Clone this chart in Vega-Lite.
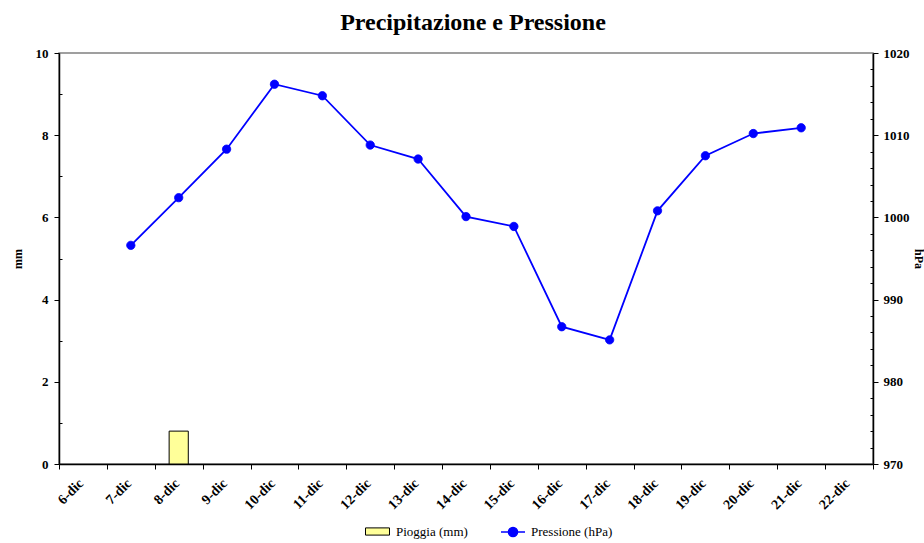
{
  "$schema": "https://vega.github.io/schema/vega-lite/v6.json",
  "width": 814,
  "height": 411,
  "autosize": {"type": "none"},
  "padding": {"left": 59, "top": 53, "right": 51, "bottom": 79},
  "background": "white",
  "title": {"text": "Precipitazione e Pressione", "font": "Liberation Serif", "fontSize": 24, "fontWeight": "bold", "color": "black", "anchor": "middle", "offset": 12, "dx": 7},
  "config": {
    "view": {"stroke": "#808080", "strokeWidth": 1.5},
    "axis": {"domainColor": "black", "domainWidth": 1.5, "tickColor": "black", "tickWidth": 1, "labelFont": "Liberation Serif", "labelFontWeight": "bold", "labelFontSize": 13, "labelColor": "black", "titleFont": "Liberation Serif", "titleFontWeight": "bold", "titleFontSize": 12, "titleColor": "black", "grid": false},
    "legend": {"labelFont": "Liberation Serif", "labelFontSize": 13, "labelColor": "black"}
  },
  "data": {"values": [
    {"day": "6-dic", "rain": null, "pressure": null},
    {"day": "7-dic", "rain": null, "pressure": 996.6},
    {"day": "8-dic", "rain": 0.8, "pressure": 1002.4},
    {"day": "9-dic", "rain": null, "pressure": 1008.3},
    {"day": "10-dic", "rain": null, "pressure": 1016.2},
    {"day": "11-dic", "rain": null, "pressure": 1014.8},
    {"day": "12-dic", "rain": null, "pressure": 1008.8},
    {"day": "13-dic", "rain": null, "pressure": 1007.1},
    {"day": "14-dic", "rain": null, "pressure": 1000.1},
    {"day": "15-dic", "rain": null, "pressure": 998.9},
    {"day": "16-dic", "rain": null, "pressure": 986.7},
    {"day": "17-dic", "rain": null, "pressure": 985.1},
    {"day": "18-dic", "rain": null, "pressure": 1000.8},
    {"day": "19-dic", "rain": null, "pressure": 1007.5},
    {"day": "20-dic", "rain": null, "pressure": 1010.2},
    {"day": "21-dic", "rain": null, "pressure": 1010.9},
    {"day": "22-dic", "rain": null, "pressure": null}
  ]},
  "encoding": {
    "x": {"field": "day", "type": "ordinal", "sort": null,
      "scale": {"domain": ["6-dic","7-dic","8-dic","9-dic","10-dic","11-dic","12-dic","13-dic","14-dic","15-dic","16-dic","17-dic","18-dic","19-dic","20-dic","21-dic","22-dic"], "paddingInner": 0, "paddingOuter": 0},
      "axis": {"title": null, "labelAngle": -45, "labelAlign": "right", "labelBaseline": "middle", "tickBand": "extent", "tickSize": 5, "labelPadding": 12, "labelOffset": -2, "labelFontSize": 14, "domainWidth": 1.5}}
  },
  "layer": [
    {
      "transform": [{"filter": "datum.rain > 0"}],
      "mark": {"type": "bar", "width": {"band": 0.4}, "stroke": "black", "strokeWidth": 1},
      "encoding": {
        "y": {"field": "rain", "type": "quantitative", "scale": {"domain": [0, 10], "nice": false},
          "axis": {"title": "mm", "values": [0,1,2,3,4,5,6,7,8,9,10], "labelExpr": "datum.value % 2 === 0 ? datum.label : ''", "tickSize": {"condition": {"test": "datum.value % 2 === 0", "value": 5}, "value": -3}, "labelPadding": 6, "titlePadding": 11}},
        "fill": {"datum": "Pioggia (mm)", "type": "nominal",
          "scale": {"domain": ["Pioggia (mm)"], "range": ["#FFFF99"]},
          "legend": {"title": null, "orient": "none", "legendX": 306, "legendY": 466, "direction": "horizontal", "symbolSize": 576, "symbolType": "M-1,-0.3H1V0.3H-1Z", "symbolStrokeColor": "black", "symbolStrokeWidth": 1, "symbolOpacity": 1, "labelOffset": 6, "labelFont": "Liberation Serif", "labelFontSize": 13, "labelColor": "black"}}
      }
    },
    {
      "transform": [{"filter": "isValid(datum.pressure)"}],
      "mark": {"type": "line", "strokeWidth": 1.8, "point": {"filled": true, "fill": "#0000FF", "size": 70, "stroke": "black", "strokeWidth": 0.8}},
      "encoding": {
        "y": {"field": "pressure", "type": "quantitative", "scale": {"domain": [970, 1020], "nice": false, "zero": false},
          "axis": {"orient": "right", "title": "hPa", "format": "d", "values": [970,972,974,976,978,980,982,984,986,988,990,992,994,996,998,1000,1002,1004,1006,1008,1010,1012,1014,1016,1018,1020], "labelExpr": "datum.value % 10 === 0 ? datum.label : ''", "tickSize": {"condition": {"test": "datum.value % 10 === 0", "value": 5}, "value": -3}, "labelPadding": 5, "titlePadding": 2}},
        "stroke": {"datum": "Pressione (hPa)", "type": "nominal",
          "scale": {"domain": ["Pressione (hPa)"], "range": ["#0000FF"]},
          "legend": {"title": null, "orient": "none", "legendX": 441, "legendY": 466, "direction": "horizontal", "symbolSize": 576, "symbolType": "M-1,0H1M0.38,0A0.38,0.38 0 1,1 -0.38,0A0.38,0.38 0 1,1 0.38,0", "symbolFillColor": "#0000FF", "symbolStrokeWidth": 1.5, "symbolOpacity": 1, "labelOffset": 5, "labelFont": "Liberation Serif", "labelFontSize": 13, "labelColor": "black"}}
      }
    }
  ],
  "resolve": {"scale": {"y": "independent"}}
}
